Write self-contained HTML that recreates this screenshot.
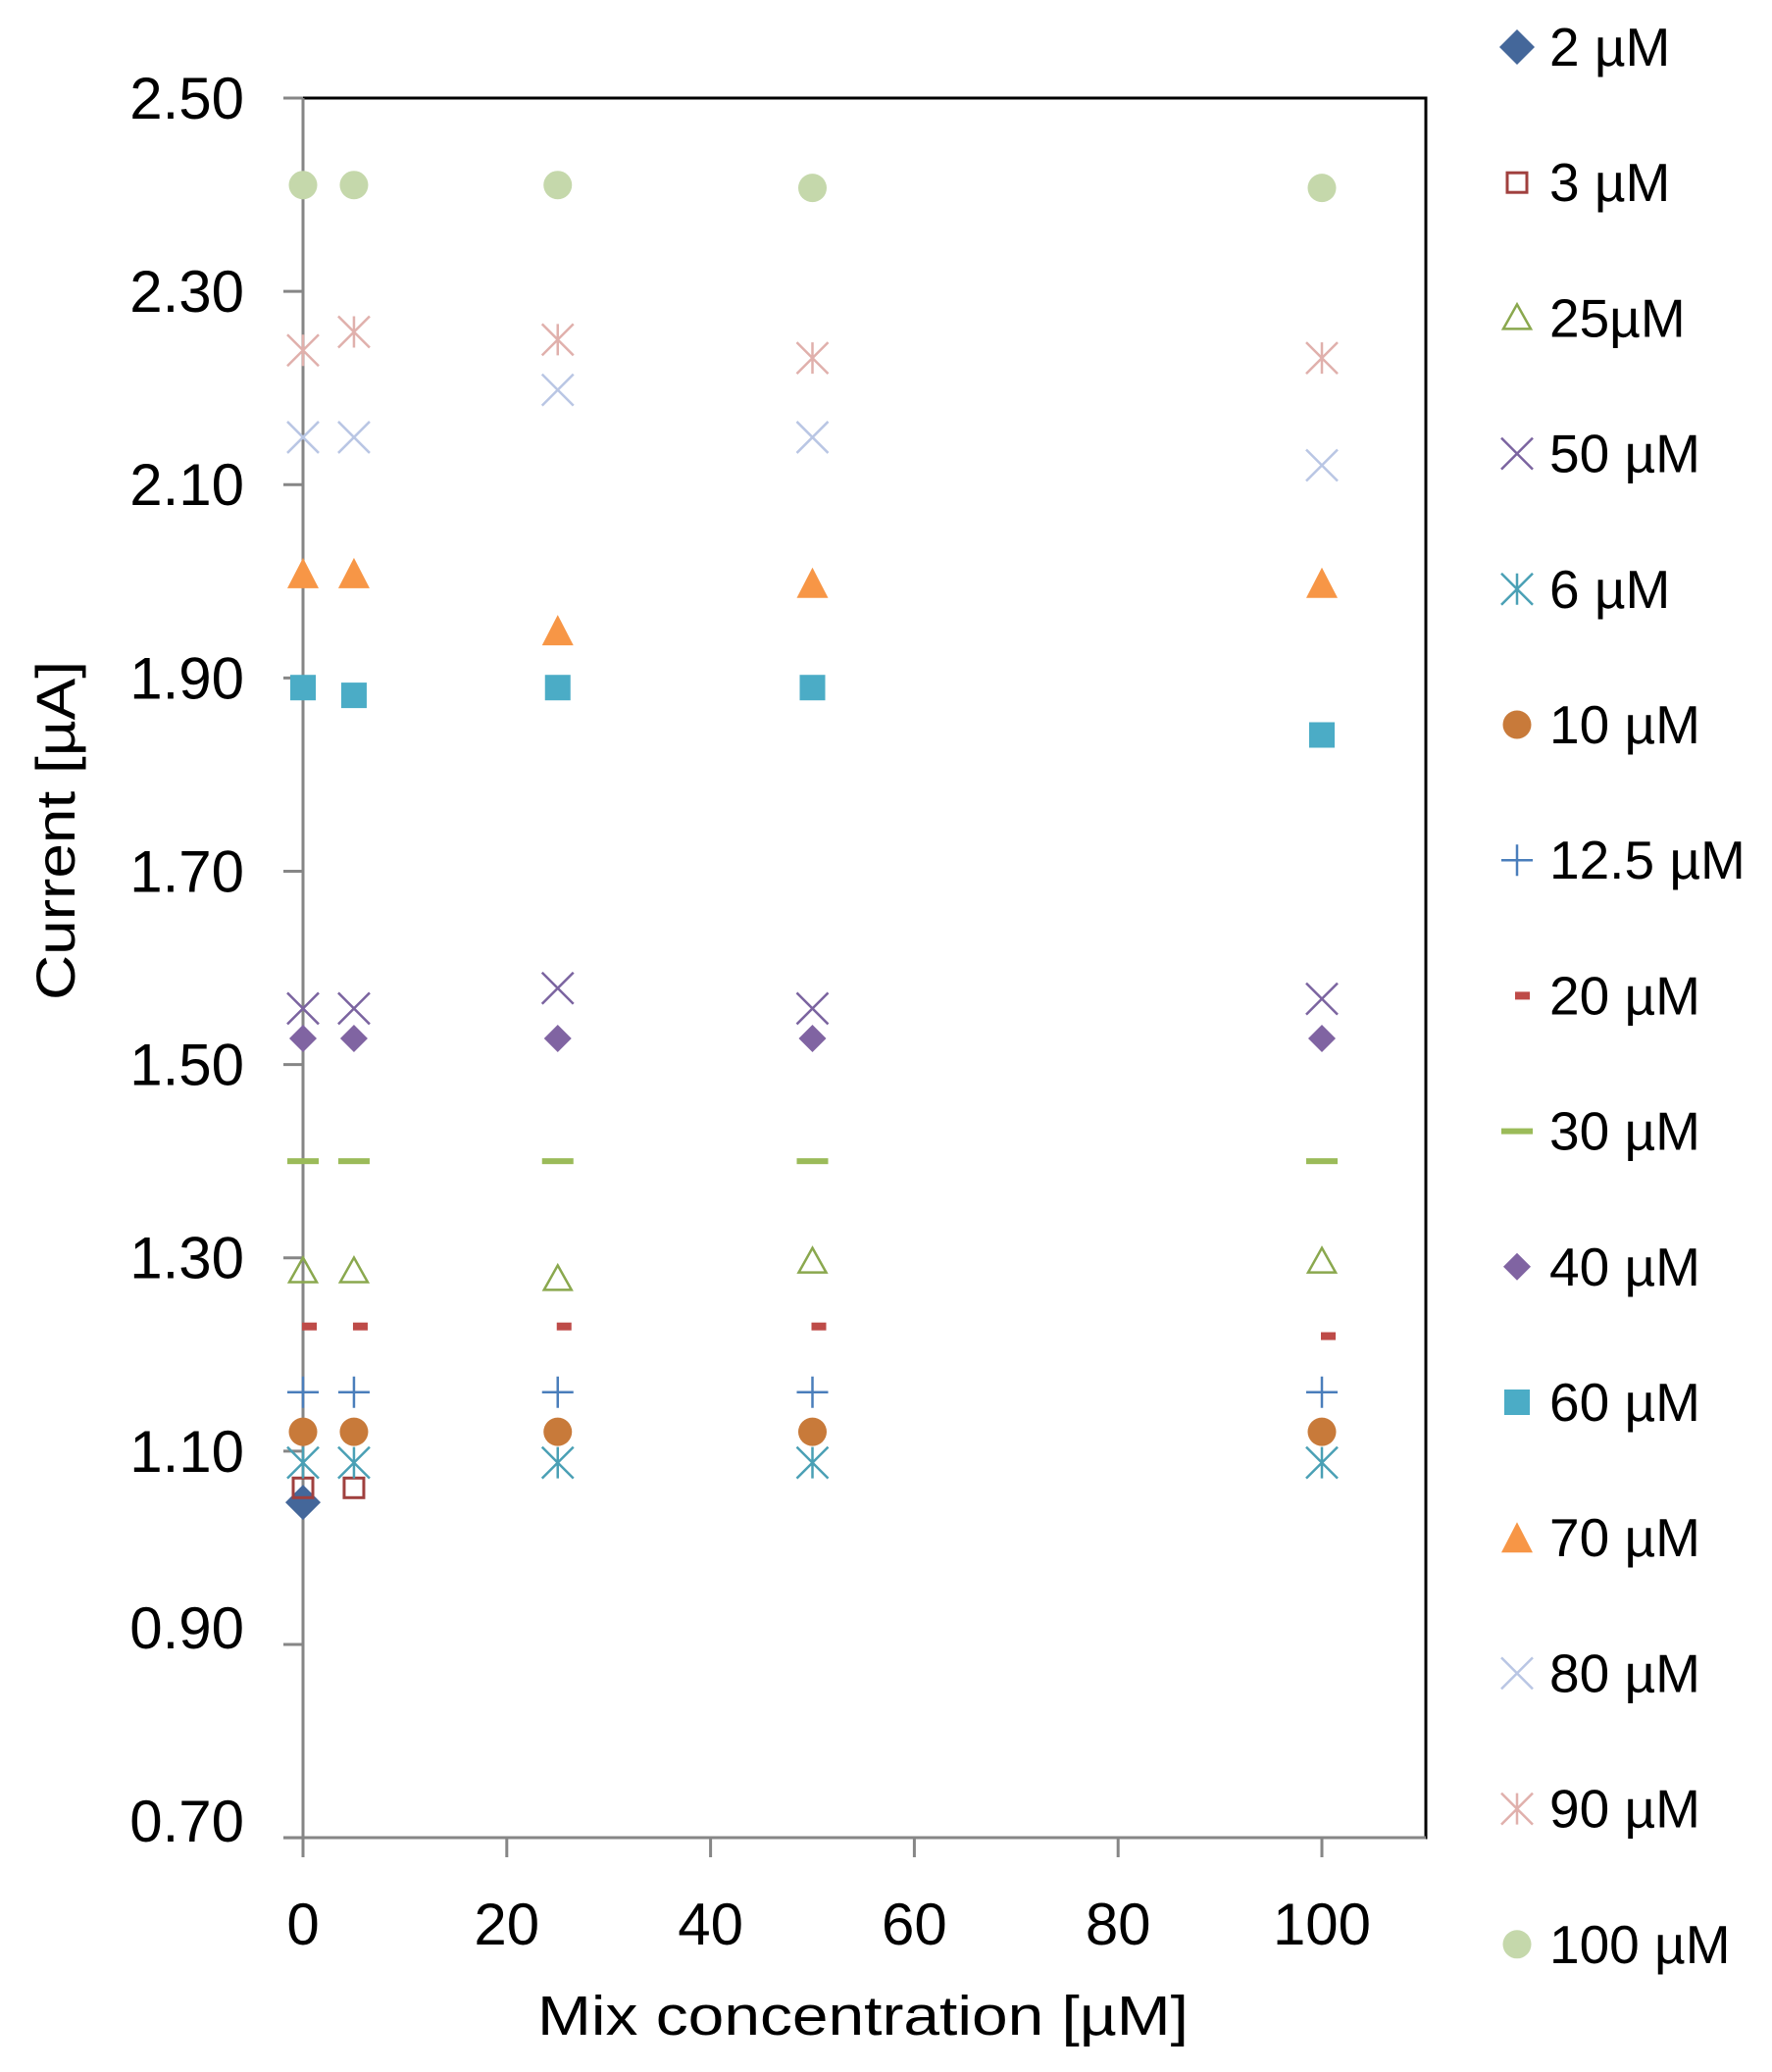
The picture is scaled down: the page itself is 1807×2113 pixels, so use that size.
<!DOCTYPE html>
<html><head><meta charset="utf-8"><style>
html,body{margin:0;padding:0;background:#fff;}
svg{display:block;font-family:"Liberation Sans",sans-serif;}
</style></head><body>
<svg id="chart" width="1807" height="2113" viewBox="0 0 1807 2113" xmlns="http://www.w3.org/2000/svg">
<rect x="309" y="100" width="1145" height="1774" fill="#fff" stroke="#000" stroke-width="3"/>
<g id="axes"></g>
<g id="marks"></g>
<g id="legend"></g>
<text x="880" y="2075" font-size="57" text-anchor="middle" textLength="664" lengthAdjust="spacingAndGlyphs">Mix concentration [µM]</text>
<text transform="translate(76,847) rotate(-90)" font-size="56" text-anchor="middle" textLength="346" lengthAdjust="spacingAndGlyphs">Current [µA]</text>
</svg>
<script>
const xTicks = [0, 20, 40, 60, 80, 100];
const yTicks = [0.70, 0.90, 1.10, 1.30, 1.50, 1.70, 1.90, 2.10, 2.30, 2.50];
const yTickLabels = ["0.70","0.90","1.10","1.30","1.50","1.70","1.90","2.10","2.30","2.50"];
const xValues = [0, 5, 25, 50, 100];
const seriesNames = ["2 µM","3 µM","25µM","50 µM","6 µM","10 µM","12.5 µM","20 µM","30 µM","40 µM","60 µM","70 µM","80 µM","90 µM","100 µM"];
const s2 = [1.047, null, null, null, null];
const s3 = [1.062, 1.062, null, null, null];
const s25 = [1.286, 1.286, 1.278, 1.296, 1.296];
const s50 = [1.558, 1.558, 1.579, 1.558, 1.568];
const s6 = [1.088, 1.088, 1.088, 1.088, 1.088];
const s10 = [1.12, 1.12, 1.12, 1.12, 1.12];
const s12 = [1.161, 1.161, 1.161, 1.161, 1.161];
const s20 = [1.229, 1.229, 1.229, 1.229, 1.219];
const s30 = [1.40, 1.40, 1.40, 1.40, 1.40];
const s40 = [1.527, 1.527, 1.527, 1.527, 1.527];
const s60 = [1.890, 1.882, 1.890, 1.890, 1.841];
const s70 = [2.008, 2.008, 1.949, 1.998, 1.998];
const s80 = [2.149, 2.149, 2.198, 2.149, 2.120];
const s90 = [2.239, 2.258, 2.250, 2.231, 2.231];
const s100 = [2.410, 2.410, 2.410, 2.407, 2.407];

const NS = "http://www.w3.org/2000/svg";
function xs(v){ return 309 + v * 10.39; }
function ys(v){ return 100 + (2.5 - v) * 985.6; }
function mk(tag, attrs, parent){ const e = document.createElementNS(NS, tag); for (const k in attrs) e.setAttribute(k, attrs[k]); parent.appendChild(e); return e; }

const axes = document.getElementById('axes');
let yl = mk('line', {x1:309,y1:100,x2:309,y2:1874,stroke:'#868686','stroke-width':3}, axes);


let xl = mk('line', {x1:289,y1:1874,x2:1454,y2:1874,stroke:'#868686','stroke-width':3}, axes);


yTicks.forEach((t,i)=>{
  const y = ys(t);
  const tk = mk('line', {x1:289,y1:y,x2:309,y2:y,stroke:'#868686','stroke-width':3}, axes);
  
  
  const shift = t < 1.0 ? -17 : 0;
  const lb = mk('text', {x:249,y:y+21+shift,'font-size':60,'text-anchor':'end'}, axes);
  lb.textContent = yTickLabels[i];
  
  
});
xTicks.forEach(t=>{
  const x = xs(t);
  const tk = mk('line', {x1:x,y1:1874,x2:x,y2:1894,stroke:'#868686','stroke-width':3}, axes);
  
  
  const lb = mk('text', {x:x,y:1983,'font-size':60,'text-anchor':'middle'}, axes);
  lb.textContent = String(t);
  
  
});

function marker(type, color, x, y, g){
  const r = 16;
  switch(type){
    case 'diamond': mk('polygon',{points:`${x},${y-18} ${x+18},${y} ${x},${y+18} ${x-18},${y}`,fill:color},g); break;
    case 'sdiamond': mk('polygon',{points:`${x},${y-14} ${x+14},${y} ${x},${y+14} ${x-14},${y}`,fill:color},g); break;
    case 'osquare': mk('rect',{x:x-10,y:y-10,width:20,height:20,fill:'none',stroke:color,'stroke-width':3},g); break;
    case 'otri': mk('polygon',{points:`${x},${y-14} ${x+14},${y+11} ${x-14},${y+11}`,fill:'none',stroke:color,'stroke-width':2.5},g); break;
    case 'x': mk('path',{d:`M${x-r},${y-r}L${x+r},${y+r}M${x-r},${y+r}L${x+r},${y-r}`,stroke:color,'stroke-width':2.5},g); break;
    case 'star': mk('path',{d:`M${x-r},${y-r}L${x+r},${y+r}M${x-r},${y+r}L${x+r},${y-r}M${x},${y-r}L${x},${y+r}`,stroke:color,'stroke-width':2.5},g); break;
    case 'circle': mk('circle',{cx:x,cy:y,r:14.5,fill:color},g); break;
    case 'plus': mk('path',{d:`M${x-r},${y}L${x+r},${y}M${x},${y-r}L${x},${y+r}`,stroke:color,'stroke-width':2.5},g); break;
    case 'sdash': mk('rect',{x:x-1,y:y-4,width:15,height:8,fill:color},g); break;
    case 'ldash': mk('rect',{x:x-16,y:y-3,width:32,height:6,fill:color},g); break;
    case 'square': mk('rect',{x:x-13,y:y-13,width:26,height:26,fill:color},g); break;
    case 'tri': mk('polygon',{points:`${x},${y-16} ${x+16},${y+15} ${x-16},${y+15}`,fill:color},g); break;
  }
}
const seriesData = [s2,s3,s25,s50,s6,s10,s12,s20,s30,s40,s60,s70,s80,s90,s100];
const types = ['diamond','osquare','otri','x','star','circle','plus','sdash','ldash','sdiamond','square','tri','x','star','circle'];
const colors = ['#44679a','#a0403e','#8aa84e','#7b64a0','#4aa0b5','#c87a3a','#4a7ebb','#be4b48','#9bbb59','#8064a2','#4bacc6','#f79646','#b9c6e4','#e0b0ac','#c5d8ab'];
const marks = document.getElementById('marks');
const legend = document.getElementById('legend');
seriesData.forEach((arr,si)=>{
  const g = mk('g',{},marks);
  
  
  arr.forEach((v,i)=>{ if (v !== null) marker(types[si], colors[si], xs(xValues[i]), ys(v), g); });
  const ly = 48 + 138.2 * si;
  const lg = mk('g',{},legend);
  
  
  marker(types[si], colors[si], types[si]==='sdash' ? 1546 : 1547, ly, lg);
  const t = mk('text',{x:1580,y:ly+19,'font-size':55},lg);
  t.textContent = seriesNames[si];
});
</script>
</body></html>
